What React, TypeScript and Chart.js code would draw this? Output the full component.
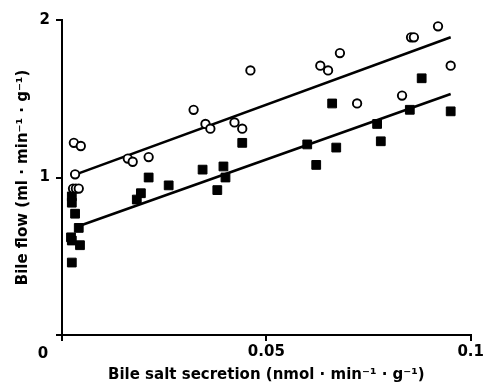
import React, { useEffect, useRef } from "react";
import { Chart, registerables } from "chart.js";

Chart.register(...registerables);

// Open circles
const circleX = [0.0029, 0.0046, 0.0032, 0.0027, 0.0034, 0.0041, 0.0161, 0.0173, 0.0212, 0.0322, 0.0351, 0.0363, 0.0422, 0.0441, 0.0461, 0.0632, 0.0651, 0.068, 0.0722, 0.0832, 0.0854, 0.0861, 0.092, 0.0951];
const circleY = [1.22, 1.2, 1.02, 0.93, 0.93, 0.93, 1.12, 1.1, 1.13, 1.43, 1.34, 1.31, 1.35, 1.31, 1.68, 1.71, 1.68, 1.79, 1.47, 1.52, 1.89, 1.89, 1.96, 1.71];

// Filled squares
const squareX = [0.0024, 0.0024, 0.0032, 0.0041, 0.0022, 0.0024, 0.0044, 0.0024, 0.0183, 0.0193, 0.0212, 0.0261, 0.0344, 0.038, 0.0395, 0.04, 0.0441, 0.06, 0.0622, 0.0661, 0.0671, 0.0771, 0.078, 0.0851, 0.088, 0.0951];
const squareY = [0.88, 0.84, 0.77, 0.68, 0.62, 0.6, 0.57, 0.46, 0.86, 0.9, 1.0, 0.95, 1.05, 0.92, 1.07, 1.0, 1.22, 1.21, 1.08, 1.47, 1.19, 1.34, 1.23, 1.43, 1.63, 1.42];

// Regression lines (end points)
const circleFitX = [0.0034, 0.0951];
const circleFitY = [1.02, 1.89];
const squareFitX = [0.004, 0.0951];
const squareFitY = [0.69, 1.53];

const xTickValues = [0, 0.05, 0.1];
const xTickLabels = ["", "0.05", "0.1"];
const yTickValues = [0, 1, 2];
const yTickLabels = ["", "1", "2"];
const originLabel = "0";
const xTitle = "Bile salt secretion (nmol · min⁻¹ · g⁻¹)";
const yTitle = "Bile flow (ml · min⁻¹ · g⁻¹)";

const FONT_FAMILY = '"DejaVu Sans", "Liberation Sans", sans-serif';

const toPoints = (xs: number[], ys: number[]) => xs.map((x, i) => ({ x, y: ys[i] }));

const originPlugin = {
  id: "originLabel",
  afterDraw(chart: any) {
    const { ctx, scales } = chart;
    const xs = scales.x;
    ctx.save();
    ctx.font = `bold 15px ${FONT_FAMILY}`;
    ctx.fillStyle = "#000";
    ctx.textAlign = "center";
    ctx.textBaseline = "middle";
    ctx.fillText(originLabel, xs.left - 19, xs.top + 19);
    ctx.restore();
  },
};

export default function App() {
  const ref = useRef<HTMLCanvasElement | null>(null);

  useEffect(() => {
    if (!ref.current) return;
    const axisCommon = {
      grid: {
        display: true,
        drawOnChartArea: false,
        drawTicks: true,
        tickLength: 6,
        color: "#000",
        lineWidth: 2,
      },
      border: { display: true, color: "#000", width: 2 },
    };
    const chart = new Chart(ref.current, {
      type: "scatter",
      data: {
        datasets: [
          {
            data: toPoints(circleX, circleY),
            pointStyle: "circle",
            pointRadius: 4.2,
            pointBorderWidth: 1.9,
            pointBorderColor: "#000",
            pointBackgroundColor: "#fff",
            order: 1,
          },
          {
            data: toPoints(squareX, squareY),
            pointStyle: "rect",
            pointRadius: 6.2,
            pointBorderWidth: 1,
            pointBorderColor: "#000",
            pointBackgroundColor: "#000",
            order: 2,
          },
          {
            data: toPoints(circleFitX, circleFitY),
            showLine: true,
            pointRadius: 0,
            borderColor: "#000",
            borderWidth: 2.6,
            order: 3,
          },
          {
            data: toPoints(squareFitX, squareFitY),
            showLine: true,
            pointRadius: 0,
            borderColor: "#000",
            borderWidth: 2.6,
            order: 4,
          },
        ],
      },
      options: {
        responsive: false,
        animation: false,
        devicePixelRatio: 1,
        layout: { padding: { top: 20, right: 13, left: 0, bottom: 0 } },
        plugins: {
          legend: { display: false },
          tooltip: { enabled: false },
        },
        events: [],
        scales: {
          x: {
            type: "linear",
            min: 0,
            max: 0.1,
            ...axisCommon,
            afterBuildTicks: (s: any) => {
              s.ticks = xTickValues.map((v) => ({ value: v }));
            },
            afterFit: (s: any) => {
              s.height = 57;
            },
            ticks: {
              color: "#000",
              padding: 2,
              maxRotation: 0,
              font: { family: FONT_FAMILY, size: 15, weight: "bold" },
              callback: (_v: any, i: number) => xTickLabels[i],
            },
            title: {
              display: true,
              text: xTitle,
              color: "#000",
              padding: { top: 0, bottom: 8 },
              font: { family: FONT_FAMILY, size: 15, weight: "bold" },
            },
          },
          y: {
            type: "linear",
            min: 0,
            max: 2,
            ...axisCommon,
            afterBuildTicks: (s: any) => {
              s.ticks = yTickValues.map((v) => ({ value: v }));
            },
            afterFit: (s: any) => {
              s.width = 62;
            },
            ticks: {
              color: "#000",
              padding: 6,
              font: { family: FONT_FAMILY, size: 15, weight: "bold" },
              callback: (_v: any, i: number) => yTickLabels[i],
            },
            title: {
              display: true,
              text: yTitle,
              color: "#000",
              padding: { top: 14, bottom: 0 },
              font: { family: FONT_FAMILY, size: 15, weight: "bold" },
            },
          },
        },
      },
      plugins: [originPlugin],
    } as any);
    return () => chart.destroy();
  }, []);

  return (
    <div style={{ position: "absolute", left: 0, top: 0, width: 486, height: 392, background: "#fff" }}>
      <canvas ref={ref} width={486} height={392} />
    </div>
  );
}
